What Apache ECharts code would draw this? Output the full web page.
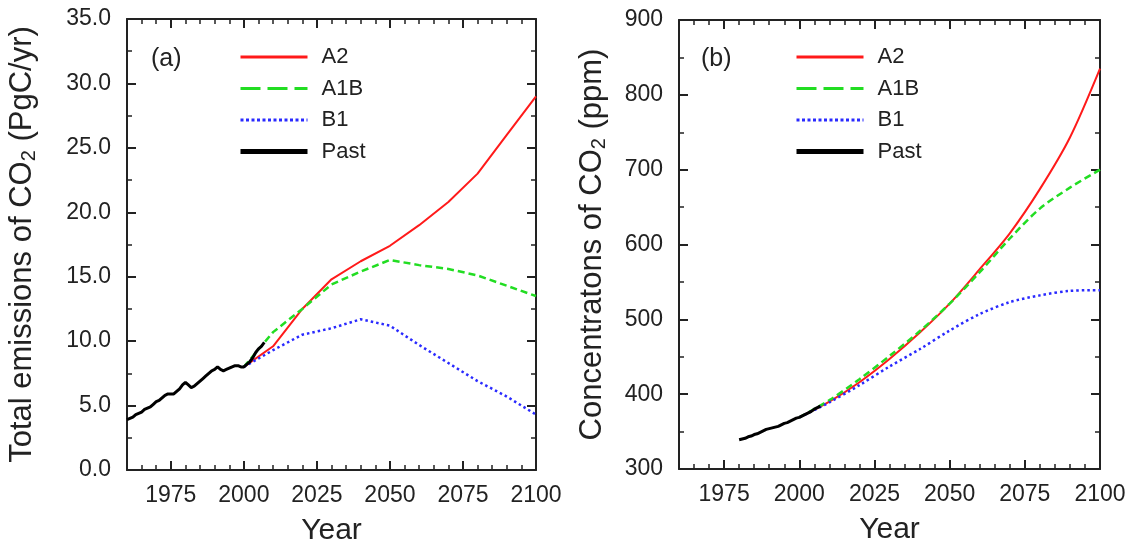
<!DOCTYPE html>
<html lang="en">
  <head>
    <meta charset="UTF-8" />
    <title>CO2 emissions and concentrations</title>
    <style>
      body {
        margin: 0;
        background: #fff;
      }
      #main {
        width: 1132px;
        height: 545px;
      }
    </style>
  </head>
  <body>
    <div id="main"></div>
    <script src="https://cdn.jsdelivr.net/npm/echarts@6.0.0/dist/echarts.min.js"></script>
    <script>
      // scenario years (both panels)
      const scenYears = [2000, 2010, 2020, 2030, 2040, 2050, 2060, 2070, 2080, 2090, 2100];

      // (a) total emissions, PgC/yr
      const emisA2 = [8.0, 9.6, 12.5, 14.8, 16.2, 17.4, 19.0, 20.8, 23.0, 26.0, 29.0];
      const emisA1B = [8.0, 10.7, 12.5, 14.4, 15.4, 16.3, 15.9, 15.6, 15.1, 14.3, 13.5];
      const emisB1 = [8.0, 9.3, 10.5, 11.0, 11.7, 11.2, 9.7, 8.3, 6.9, 5.7, 4.3];
      const pastEmisYears = [
        1960, 1961, 1962, 1963, 1964, 1965, 1966, 1967, 1968, 1969, 1970, 1971, 1972, 1973, 1974, 1975,
        1976, 1977, 1978, 1979, 1980, 1981, 1982, 1983, 1984, 1985, 1986, 1987, 1988, 1989, 1990, 1991,
        1992, 1993, 1994, 1995, 1996, 1997, 1998, 1999, 2000, 2001, 2002, 2003, 2004, 2005, 2006, 2007,
      ];
      const pastEmis = [
        3.9, 4.0, 4.1, 4.3, 4.4, 4.5, 4.7, 4.8, 4.9, 5.1, 5.3, 5.4, 5.6, 5.8, 5.9, 5.9,
        5.9, 6.1, 6.3, 6.6, 6.8, 6.6, 6.4, 6.5, 6.7, 6.9, 7.1, 7.3, 7.5, 7.7, 7.8, 8.0,
        7.8, 7.7, 7.8, 7.9, 8.0, 8.1, 8.1, 8.0, 8.0, 8.2, 8.4, 8.7, 9.1, 9.4, 9.6, 9.9,
      ];

      // (b) concentrations, ppm
      const concA2 = [369, 390, 416, 447, 482, 521, 567, 615, 674, 743, 835];
      const concA1B = [369, 392, 420, 451, 484, 521, 563, 608, 648, 676, 700];
      const concB1 = [369, 389, 412, 437, 460, 485, 507, 523, 532, 538, 539];
      const pastConcYears = [
        1980, 1981, 1982, 1983, 1984, 1985, 1986, 1987, 1988, 1989, 1990, 1991, 1992, 1993,
        1994, 1995, 1996, 1997, 1998, 1999, 2000, 2001, 2002, 2003, 2004, 2005, 2006, 2007,
      ];
      const pastConc = [
        339, 340, 341, 343, 344, 346, 347, 349, 351, 353, 354, 355, 356, 357,
        359, 361, 362, 364, 366, 368, 369, 371, 373, 375, 377, 380, 382, 384,
      ];

      // tick labels
      const yearTicks = [1975, 2000, 2025, 2050, 2075, 2100];
      const scenNames = ["A2", "A1B", "B1", "Past"];

      const FONT = "Liberation Sans, Arial, sans-serif";
      const INK = "#222";
      const colors = { A2: "#ff1a1a", A1B: "#22dd22", B1: "#2a2aff", Past: "#000" };
      const dashes = { A2: "solid", A1B: [7, 4], B1: [2.5, 3], Past: "solid" };
      const widths = { A2: 2, A1B: 2.5, B1: 2.5, Past: 3 };

      const zip = (xs, ys) => xs.map((x, i) => [x, ys[i]]);

      function xAxes(g) {
        const base = {
          gridIndex: g,
          type: "value",
          min: 1960,
          max: 2100,
          splitLine: { show: false },
        };
        const line = { show: true, onZero: false, lineStyle: { color: INK, width: 2 } };
        const major = {
          show: true,
          inside: true,
          length: 9,
          customValues: yearTicks,
          lineStyle: { color: INK, width: 2 },
        };
        const minor = { show: true, inside: true, length: 5, lineStyle: { color: INK, width: 1.5 } };
        return [
          {
            ...base,
            position: "bottom",
            axisLine: line,
            axisTick: major,
            axisLabel: {
              customValues: yearTicks,
              fontSize: 23,
              color: INK,
              fontFamily: FONT,
              margin: 14,
              formatter: (v) => String(v),
            },
            name: "Year",
            nameLocation: "middle",
            nameGap: 46,
            nameTextStyle: { fontSize: 30, color: INK, fontFamily: FONT },
          },
          {
            ...base,
            position: "bottom",
            interval: 5,
            axisLine: { show: false, onZero: false },
            axisTick: minor,
            axisLabel: { show: false },
          },
          { ...base, position: "top", axisLine: line, axisTick: major, axisLabel: { show: false } },
          {
            ...base,
            position: "top",
            interval: 5,
            axisLine: { show: false, onZero: false },
            axisTick: minor,
            axisLabel: { show: false },
          },
        ];
      }

      function yAxes(g, min, max, interval, fmt, nameRich, gap) {
        const base = {
          gridIndex: g,
          type: "value",
          min: min,
          max: max,
          interval: interval,
          splitLine: { show: false },
          axisLine: { show: true, onZero: false, lineStyle: { color: INK, width: 2 } },
          axisTick: { show: true, inside: true, length: 9, lineStyle: { color: INK, width: 2 } },
          minorTick: { show: true, splitNumber: 2, length: 5, lineStyle: { color: INK, width: 1.5 } },
          minorSplitLine: { show: false },
        };
        return [
          {
            ...base,
            position: "left",
            axisLabel: { fontSize: 23, color: INK, fontFamily: FONT, margin: 16, formatter: fmt },
            name: nameRich,
            nameLocation: "middle",
            nameGap: gap,
            nameTextStyle: {
              color: INK,
              fontFamily: FONT,
              fontSize: 31,
              rich: {
                n: { fontSize: 31, color: INK, fontFamily: FONT, lineHeight: 34 },
                s: {
                  fontSize: 20,
                  color: INK,
                  fontFamily: FONT,
                  verticalAlign: "bottom",
                  lineHeight: 34,
                  padding: [12, 0, 0, 0],
                },
              },
            },
          },
          { ...base, position: "right", axisLabel: { show: false } },
        ];
      }

      function lineSeries(name, xi, yi, data, smooth) {
        return {
          name: name,
          type: "line",
          xAxisIndex: xi,
          yAxisIndex: yi,
          data: data,
          symbol: "none",
          smooth: smooth,
          z: name === "Past" ? 5 : 3,
          lineStyle: { color: colors[name], width: widths[name], type: dashes[name] },
          itemStyle: { color: colors[name] },
          emphasis: { disabled: true },
        };
      }

      function legend(left) {
        return {
          orient: "vertical",
          left: left,
          top: 46,
          padding: 0,
          itemWidth: 67,
          itemHeight: 22,
          itemGap: 9.5,
          selectedMode: false,
          textStyle: { fontSize: 22, color: INK, fontFamily: FONT, padding: [0, 0, 0, 9] },
          data: scenNames.map((n) => ({
            name: n,
            itemStyle: { opacity: 0 },
            lineStyle: {
              color: colors[n],
              width: n === "Past" ? 5 : 3,
              type: n === "A1B" ? [20, 7] : n === "B1" ? [3, 2.5] : "solid",
            },
          })),
        };
      }

      const myChart = echarts.init(document.getElementById("main"));

      const option = {
        backgroundColor: "#fff",
        animation: false,
        textStyle: { fontFamily: FONT },
        grid: [
          { left: 127, right: 596, top: 19, bottom: 75, outerBoundsMode: "none", containLabel: false },
          { left: 679, right: 32, top: 20, bottom: 76, outerBoundsMode: "none", containLabel: false },
        ],
        xAxis: [...xAxes(0), ...xAxes(1)],
        yAxis: [
          ...yAxes(0, 0, 35, 5, (v) => v.toFixed(1), "{n|Total emissions of CO}{s|2}{n| (PgC/yr)}", 88),
          ...yAxes(1, 300, 900, 100, (v) => String(v), "{n|Concentratons of CO}{s|2}{n| (ppm)}", 70),
        ],
        legend: [legend(238), legend(794)],
        graphic: [
          { type: "text", left: 151, top: 47, style: { text: "(a)", font: "25px " + FONT, fill: INK } },
          { type: "text", left: 701, top: 47, style: { text: "(b)", font: "25px " + FONT, fill: INK } },
        ],
        series: [
          lineSeries("A2", 0, 0, zip(scenYears, emisA2), false),
          lineSeries("A1B", 0, 0, zip(scenYears, emisA1B), false),
          lineSeries("B1", 0, 0, zip(scenYears, emisB1), false),
          lineSeries("Past", 0, 0, zip(pastEmisYears, pastEmis), false),
          lineSeries("A2", 4, 2, zip(scenYears, concA2), 0.3),
          lineSeries("A1B", 4, 2, zip(scenYears, concA1B), 0.3),
          lineSeries("B1", 4, 2, zip(scenYears, concB1), 0.3),
          lineSeries("Past", 4, 2, zip(pastConcYears, pastConc), false),
        ],
      };
      myChart.setOption(option);
    </script>
  </body>
</html>
